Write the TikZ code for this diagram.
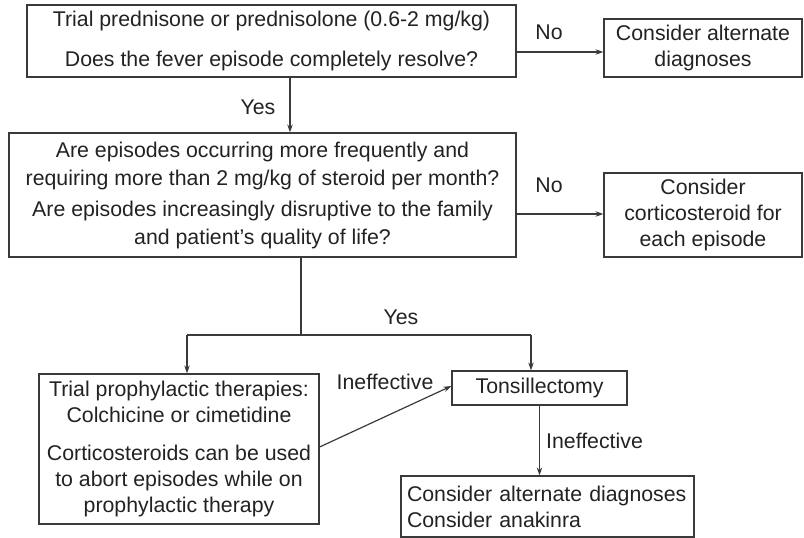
\documentclass[tikz,border=0pt]{standalone}
\usepackage{fontspec}
\setmainfont{Liberation Sans}
\usetikzlibrary{arrows.meta,calc}
\definecolor{ink}{HTML}{222222}
\definecolor{linec}{HTML}{3A3A3A}
\begin{document}
\begin{tikzpicture}[x=1pt,y=-1pt,
  every node/.style={text=ink},
  txt/.style={font=\fontsize{21.3}{26}\selectfont, inner sep=0pt},
  box/.style={draw=linec, line width=1.2pt, inner sep=0pt, align=center,
    font=\fontsize{21.3}{26}\selectfont},
  conn/.style={draw=linec, line width=1.2pt},
  arr/.style={conn, -{Stealth[length=8pt,width=5.5pt]}}]
\useasboundingbox (0,0) rectangle (804,538);

% boxes
\node[box, minimum width=489pt, minimum height=72pt] (b1) at (271.5,41)
  {Trial prednisone or prednisolone (0.6-2 mg/kg)\\[14pt]
   Does the fever episode completely resolve?};
\node[box, minimum width=198pt, minimum height=58pt] (alt) at (703,48)
  {Consider alternate\\diagnoses};
\node[box, minimum width=507pt, minimum height=124pt,
      font=\fontsize{21.3}{28}\selectfont] (b2) at (262.5,195)
  {Are episodes occurring more frequently and\\
   requiring more than 2 mg/kg of steroid per month?\\[3pt]
   Are episodes increasingly disruptive to the family\\
   and patient's quality of life?};
\node[box, minimum width=198pt, minimum height=84pt] (cort) at (703,215)
  {Consider\\corticosteroid for\\each episode};
\node[box, minimum width=280pt, minimum height=150pt] (trial) at (179,449)
  {Trial prophylactic therapies:\\
   Colchicine or cimetidine\\[12pt]
   Corticosteroids can be used\\
   to abort episodes while on\\
   prophylactic therapy};
\node[box, minimum width=175pt, minimum height=34pt] (tons) at (539.5,388)
  {Tonsillectomy};
\node[box, minimum width=293pt, minimum height=61pt, align=left,
      text width=281pt] (last) at (547.5,506.5)
  {Consider alternate diagnoses\\Consider anakinra};

% connectors
\draw[arr] (b1.east |- 0,52) -- (alt.west |- 0,52);
\node[txt] (no1) at (549,32) {No};
\draw[arr] (b1.south -| 290,0) -- (b2.north -| 290,0);
\node[txt] (yes1) at (258,107) {Yes};
\draw[arr] (b2.east |- 0,214) -- (cort.west |- 0,214);
\node[txt] (no2) at (549,185) {No};

\coordinate (split) at (301,335);
\coordinate (splitL) at (187,335);
\coordinate (splitR) at (531,335);
\draw[conn] (b2.south -| split) -- (split);
\draw[conn] (splitL) -- (splitR);
\draw[arr] (splitL) -- (trial.north -| splitL);
\draw[arr] (splitR) -- (tons.north -| splitR);
\node[txt] (yes2) at (401,317) {Yes};

\draw[arr] (trial.east |- 0,447) -- (tons.west |- 0,386);
\node[txt] (ineff1) at (385,382) {Ineffective};
\draw[arr] (tons.south) -- (last.north -| tons.south);
\node[txt] (ineff2) at (594.5,441) {Ineffective};
\end{tikzpicture}
\end{document}
